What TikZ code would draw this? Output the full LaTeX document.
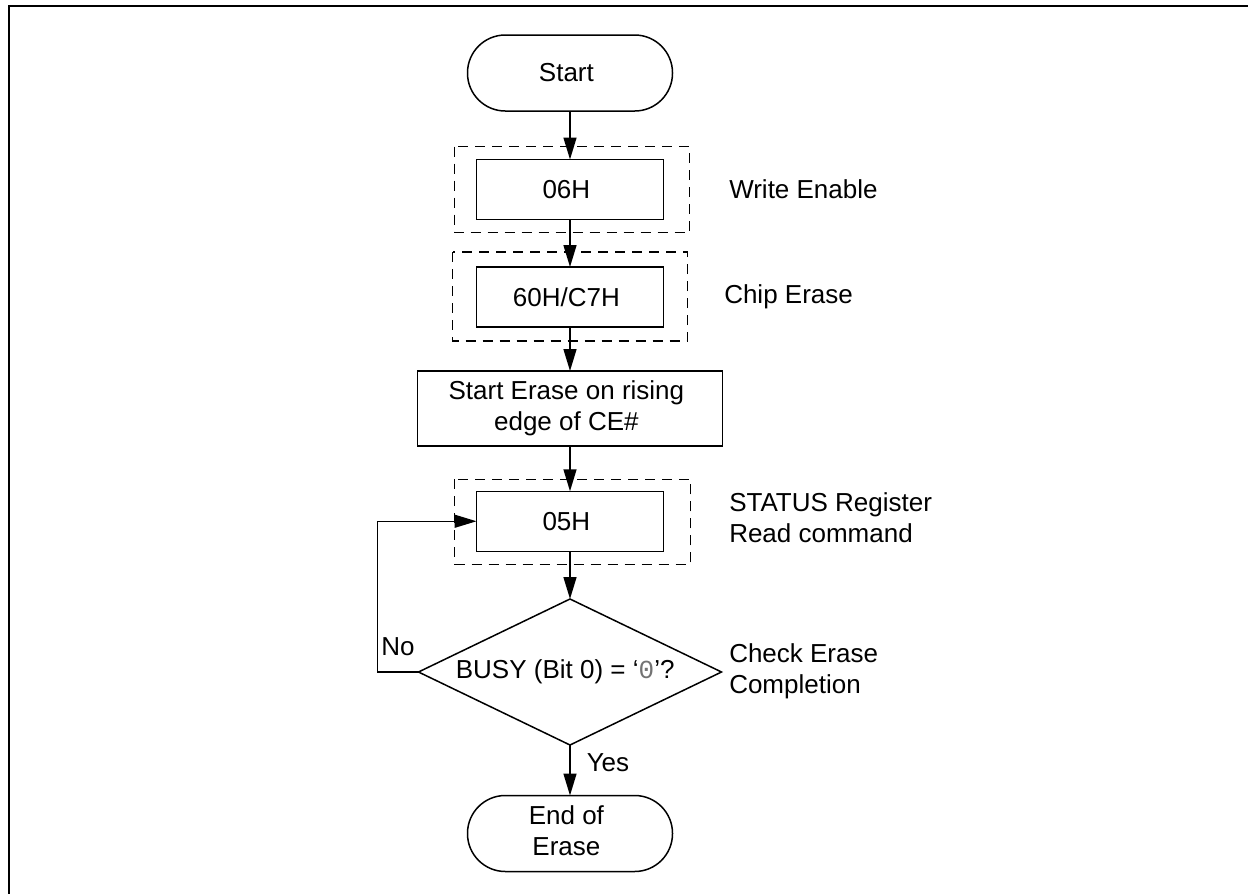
\documentclass[tikz,border=0pt]{standalone}
\usepackage{fontspec}
\setmainfont{Liberation Sans}
\setmonofont{Liberation Mono}
\usetikzlibrary{matrix,shapes.geometric,arrows.meta}
\newcommand\TwoLines[3]{\begin{tabular}{@{}#1@{}}#2\\#3\end{tabular}}
\tikzset{
    flowarrow/.style={-{Triangle[length=11pt,width=6.5pt]}, line width=0.75pt},
    dashbox/.style={dash pattern=on 5pt off 3.5pt, line width=0.6pt},
    terminal/.style={rounded corners=18.9pt, minimum width=102.5pt, minimum height=38pt},
    flowfont/.style={font=\fontsize{13pt}{15.5pt}\selectfont},
}
\def\EraseFlow{
    \matrix (flow)
    [matrix of nodes,
    ampersand replacement=\&,
    matrix anchor=flow-1-1.center,
    column sep={0.5pt},
    row sep={23pt},
    nodes={outer sep=0pt, anchor=center, draw, rectangle, line width=0.75pt, minimum width=93.5pt, minimum height=30pt, align=center, flowfont},
    column 2/.style={nodes={draw=none, anchor=west, align=left, inner sep=0pt, minimum width=0pt, minimum height=0pt}}]
    at (285pt,-36.5pt)
    {
     |[terminal]| Start \\[0.5pt]
     06H \& Write Enable \\
     60H/C7H \& |[xshift=-2.5pt]| Chip Erase \\[-1.75pt]
     |[minimum width=152.5pt, minimum height=37.5pt, inner sep=0pt]| \TwoLines{c}{Start Erase on rising}{edge of CE\#} \\[-1.25pt]
     05H \& \TwoLines{l}{STATUS Register}{Read command} \\[0pt]
     |[diamond, aspect=2.075, inner sep=0pt, minimum width=151.5pt, minimum height=73pt]| BUSY {(}Bit 0{)} = ‘{\color{black!55}\ttfamily 0}’? \& \TwoLines{l}{Check Erase}{Completion} \\[1.5pt]
     |[terminal, inner sep=0pt]| \TwoLines{c}{End of}{Erase} \\
    };
}
\begin{document}
\begin{tikzpicture}
    \useasboundingbox (0,0) rectangle (624pt,-447pt);
    \draw[line width=1.2pt] (4.5pt,-447pt) |- (624pt,-3pt);
    \EraseFlow
    \draw[dashbox] ([xshift=-11pt,yshift=6.5pt]flow-2-1.north west) rectangle ([xshift=13pt,yshift=-6.5pt]flow-2-1.south east);
    \draw[dashbox] ([xshift=-12pt,yshift=7.5pt]flow-3-1.north west) rectangle ([xshift=12pt,yshift=-7pt]flow-3-1.south east);
    \draw[dashbox] ([xshift=-11pt,yshift=6pt]flow-5-1.north west) rectangle ([xshift=13.5pt,yshift=-6.5pt]flow-5-1.south east);
    \draw[flowarrow] (flow-1-1) -- (flow-2-1);
    \draw[flowarrow] (flow-2-1) -- (flow-3-1);
    \draw[flowarrow] (flow-3-1) -- (flow-4-1);
    \draw[flowarrow] (flow-4-1) -- (flow-5-1);
    \draw[flowarrow] (flow-5-1) -- (flow-6-1);
    \draw[flowarrow] (flow-6-1) -- node[pos=0.35, right=8pt, inner sep=0pt, flowfont]{Yes} (flow-7-1);
    \draw[flowarrow] (flow-6-1.west) -- node[above=8pt, inner sep=0pt, flowfont]{No} ++(-20.5pt,0) |- (flow-5-1.west);
\end{tikzpicture}
\end{document}
